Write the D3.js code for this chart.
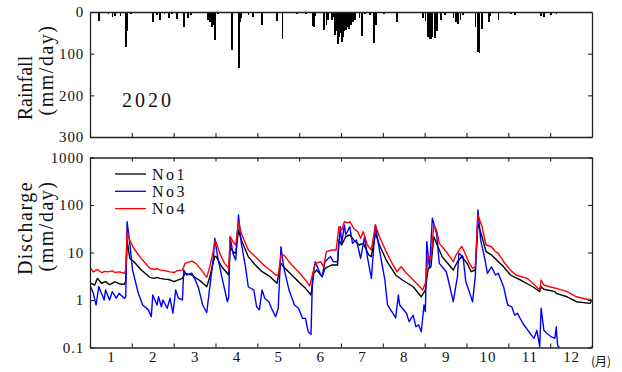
<!DOCTYPE html>
<html>
<head>
<meta charset="utf-8">
<script src="https://cdn.jsdelivr.net/npm/d3@7"></script>
<style>
  body { margin: 0; background: #fff; }
  svg text { font-family: "Liberation Serif", "Tinos", "DejaVu Serif", serif; fill: #111; }
</style>
</head>
<body>
<svg id="chart" width="622" height="372"></svg>
<script>
// Month labels and the day-of-year on which each month starts (2020 is a leap year)
const months = ["1","2","3","4","5","6","7","8","9","10","11","12"];
const monthStartDay = [0, 31, 60, 91, 121, 152, 182, 213, 244, 274, 305, 335, 366];
const rainTicks = [0, 100, 200, 300];
const dischargeTicks = [0.1, 1, 10, 100, 1000];
const year = "2020";

// Daily rainfall: [day of year, mm/day]
const rainfall = [
  [7,22],[14,5],[17,12],[19,10],[23,10],[27,83],[28,45],[31,5],
  [46,23],[49,6],[51,18],[54,5],[57,15],[59,4],
  [63,17],[68,36],[71,15],[73,8],[86,20],[87,25],[89,35],[90,30],[91,68],
  [93,5],[103,90],[108,135],[109,25],[110,15],[115,8],[118,12],
  [125,30],[136,22],[140,65],[151,5],
  [157,4],[162,33],[163,37],[164,10],[170,43],[172,31],[173,20],[176,20],[177,12],[178,55],[179,45],[180,76],[181,60],[182,50],
  [183,72],[184,60],[185,45],[186,43],[187,35],[188,41],[189,30],[190,31],[191,25],[193,20],[196,15],[198,58],[200,5],[204,8],[207,74],[208,30],
  [214,5],[224,24],[234,3],[243,15],
  [245,22],[247,60],[248,65],[249,65],[250,60],[252,62],[253,45],[256,20],[259,8],[265,15],[267,25],[268,28],[270,20],[272,8],
  [275,3],[281,35],[283,95],[284,98],[286,40],[291,25],[292,10],[298,20],[303,3],
  [307,5],[310,6],[321,3],[329,10],[331,12],
  [336,8],[340,5]
];

// Daily discharge (mm/day) at the three stations: [day of year, value]
const no1 = [
  [1,2.25],[4,2.07],[6,2.86],[9,2.25],[12,2.43],[15,2.1],[19,2.4],[22,2.2],[24,2.14],[26,2.14],[27,2.5],[28,18.3],[30,7.5],[33,6.4],
  [38,4.28],[44,3.0],[47,2.86],[49,3.0],[51,2.86],[54,2.75],[57,2.7],[61,2.43],[63,2.6],[67,2.86],[69,3.65],[71,3.5],[74,3.36],
  [77,2.9],[81,2.43],[85,1.9],[87,2.86],[90,6.4],[91,8.4],[92,8.2],[96,5.0],[101,3.36],[102,13.2],[104,10.4],[106,9.6],[108,29.7],
  [110,18.3],[115,8.2],[120,5.46],[125,3.94],[131,3.1],[136,2.25],[139,5.9],[142,4.65],[147,3.36],[152,2.43],[157,1.76],[161,1.27],
  [163,3.65],[165,4.28],[169,3.1],[171,4.65],[176,5.46],[180,5.46],[181,18.3],[183,14.4],[186,21.5],[189,23.4],[192,18.3],[196,14.4],
  [199,15.6],[203,8.9],[205,8.2],[208,25.4],[211,14.4],[216,6.95],[223,3.36],[228,2.64],[236,1.9],[242,1.17],[245,1.62],[247,4.65],
  [249,5.0],[251,21.5],[254,13.2],[257,8.2],[262,5.46],[265,4.28],[268,6.4],[271,8.2],[275,5.9],[278,3.94],[281,4.28],[283,41],
  [286,21.5],[289,10.4],[293,8.9],[302,5.0],[307,3.36],[314,2.64],[323,1.9],[328,1.5],[329,1.9],[331,1.68],[339,1.5],[340,1.38],
  [348,1.17],[355,0.92],[365,0.85],[366,0.95]
];
const no3 = [
  [1,1.9],[3,1.38],[5,0.785],[7,1.9],[9,1.38],[11,1.0],[12,1.62],[15,1.0],[17,1.5],[20,1.09],[22,1.38],[26,1.09],[27,1.17],[28,44.5],
  [30,15.6],[32,4.28],[36,1.38],[39,0.785],[43,0.62],[45,0.445],[46,1.27],[49,0.785],[50,1.17],[52,0.72],[53,1.0],[56,0.67],[58,1.09],
  [60,0.525],[62,1.62],[64,1.09],[67,1.0],[68,4.28],[70,3.36],[74,3.65],[76,2.86],[79,1.76],[82,0.785],[85,0.54],[87,1.62],[90,8.2],
  [91,19.9],[93,8.2],[96,3.1],[100,0.92],[101,1.17],[102,21.5],[104,9.6],[106,6.95],[108,61.6],[110,15.6],[113,5.0],[115,1.9],
  [119,1.62],[121,0.72],[123,0.62],[125,1.62],[127,1.09],[130,0.92],[132,0.67],[135,0.445],[137,0.67],[139,13.2],[141,5.0],
  [145,1.62],[149,0.785],[152,0.67],[155,0.41],[157,0.41],[159,0.215],[161,0.19],[162,2.64],[164,6.4],[168,3.36],[169,3.1],
  [171,6.4],[175,8.2],[177,6.4],[180,6.4],[182,34.9],[183,15.6],[185,37.9],[186,23.4],[189,34.9],[191,15.6],[194,18.3],[197,7.5],
  [200,21.5],[202,8.2],[205,2.86],[208,37.9],[211,11.3],[215,2.64],[217,0.785],[221,0.525],[223,0.42],[225,1.27],[226,0.785],
  [231,0.525],[233,0.35],[236,0.48],[238,0.274],[240,0.3],[242,0.215],[244,0.785],[245,0.57],[246,16.9],[248,4.65],[250,52.5],
  [253,25.4],[255,5.9],[257,5.0],[260,3.94],[262,2.25],[265,0.92],[268,3.1],[269,9.6],[272,8.2],[274,2.43],[277,1.38],[279,0.92],
  [281,3.1],[283,78.5],[285,18.3],[288,7.5],[290,3.65],[293,5.0],[296,3.36],[298,3.65],[302,1.9],[305,0.785],[308,0.72],[310,0.48],
  [312,0.525],[316,0.32],[321,0.2],[324,0.156],[326,0.23],[328,0.104],[329,0.67],[331,0.23],[333,0.2],[336,0.17],[339,0.156],
  [340,0.274],[341,0.11],[343,0.095],[348,0.07],[355,0.06],[362,0.06],[365,0.08],[366,0.105]
];
const no4 = [
  [1,4.7],[3,3.9],[6,4.4],[9,3.8],[12,4.0],[14,3.9],[17,4.1],[19,3.8],[22,3.9],[26,3.65],[27,4.3],[28,27],[30,18],[33,12],[38,7.5],
  [44,4.65],[46,4.5],[47,4.4],[49,4.6],[51,4.3],[53,4.2],[55,4.1],[58,3.9],[61,3.8],[63,4.1],[67,4.3],[69,5.9],[71,6.2],[74,6.6],
  [77,5.9],[81,4.3],[85,3.0],[87,4.65],[90,11.3],[91,17],[92,16.5],[95,8.9],[98,5.9],[101,4.65],[102,21.5],[104,16.9],[106,14.4],
  [108,44.5],[110,25.4],[115,11.3],[120,8.2],[125,5.9],[127,5.2],[131,4.28],[135,3.36],[137,3.36],[139,8.9],[141,8.9],[147,5.46],
  [152,3.94],[157,2.64],[160,1.97],[162,3.36],[164,5.9],[168,6.4],[170,5.0],[172,10.4],[176,11.3],[179,11.3],[181,35],[183,29.7],
  [185,44.5],[187,42],[189,44.5],[192,32],[195,27.4],[197,19.9],[199,27.4],[202,14.4],[205,11.3],[208,37.9],[211,21.5],[216,10.4],
  [221,5.46],[224,3.94],[227,5.0],[231,3.65],[236,2.64],[242,1.76],[243,1.62],[245,2.25],[247,8.9],[249,6.95],[251,37.9],[253,29.7],
  [255,15.6],[260,10.4],[265,6.4],[267,8.9],[271,13.5],[273,10.4],[276,6.4],[279,4.65],[281,5.0],[283,61.6],[286,34.9],[289,14.4],
  [293,13.2],[296,10.4],[298,9.6],[302,6.4],[307,4.28],[311,3.36],[319,2.86],[323,2.25],[328,1.62],[329,2.64],[331,2.07],[335,1.9],
  [340,1.76],[348,1.5],[355,1.17],[365,1.0],[366,1.05]
];

const series = [
  { name: "No1", data: no1, color: "#000000" },
  { name: "No3", data: no3, color: "#0000ff" },
  { name: "No4", data: no4, color: "#ff0000" }
];

// ---- layout ----
const serif = '"Liberation Serif", "Tinos", "DejaVu Serif", serif';
const left = 90, right = 592;
const rainTop = 12, rainBottom = 137;
const qTop = 157.5, qBottom = 347.5;
const svg = d3.select("#chart");

// every month gets the same width on the time axis
const x = d3.scaleLinear()
  .domain(monthStartDay)
  .range(monthStartDay.map((d, i) => left + i * (right - left) / 12));
const yRain = d3.scaleLinear().domain([0, 300]).range([rainTop, rainBottom]);
const yQ = d3.scaleLog().domain([0.1, 1000]).range([qBottom, qTop]);

const axisColor = "#222";
function styleAxis(g) {
  g.attr("font-family", null);
  g.selectAll("path.domain").attr("stroke", axisColor).attr("stroke-width", 1.3);
  g.selectAll(".tick line").attr("stroke", axisColor).attr("stroke-width", 1.1);
  g.selectAll(".tick text").attr("fill", "#111").attr("font-size", 15)
    .style("font-family", serif)
    .attr("letter-spacing", "0.8px");
}

// ---- rainfall panel ----
svg.append("g").attr("shape-rendering", "crispEdges").selectAll("rect")
  .data(rainfall)
  .join("rect")
  .attr("x", d => x(d[0] - 1))
  .attr("width", d => Math.max(1.8, x(d[0]) - x(d[0] - 1)))
  .attr("y", yRain(0))
  .attr("height", d => yRain(d[1]) - yRain(0))
  .attr("fill", "#000");

svg.append("g").attr("transform", `translate(${left},0)`)
  .call(d3.axisLeft(yRain).tickValues(rainTicks).tickSizeInner(-4).tickSizeOuter(0).tickPadding(6))
  .call(styleAxis);
svg.append("g").attr("transform", `translate(${right},0)`)
  .call(d3.axisRight(yRain).tickValues(rainTicks).tickSizeInner(-4).tickSizeOuter(0).tickFormat(""))
  .call(styleAxis);
svg.append("g").attr("transform", `translate(0,${rainBottom})`)
  .call(d3.axisBottom(x).tickValues(monthStartDay).tickSizeInner(-4).tickSizeOuter(0).tickFormat(""))
  .call(styleAxis);
svg.append("g").attr("transform", `translate(0,${rainTop})`)
  .call(d3.axisTop(x).tickValues([]).tickSizeOuter(0))
  .call(styleAxis);

svg.append("text")
  .attr("x", 122).attr("y", 107)
  .attr("font-size", 20).attr("letter-spacing", "3px")
  .style("font-family", serif)
  .text(year);

// ---- discharge panel ----
svg.append("defs").append("clipPath").attr("id", "plot-clip")
  .append("rect").attr("x", left).attr("y", qTop).attr("width", right - left).attr("height", qBottom - qTop);

const line = d3.line()
  .x(d => x(d[0] - 0.5))
  .y(d => yQ(d[1]));

svg.append("g").attr("clip-path", "url(#plot-clip)")
  .selectAll("path")
  .data(series)
  .join("path")
  .attr("d", s => line(s.data))
  .attr("fill", "none")
  .attr("stroke", s => s.color)
  .attr("stroke-width", 1.4)
  .attr("stroke-linejoin", "round");

svg.append("g").attr("transform", `translate(${left},0)`)
  .call(d3.axisLeft(yQ).tickValues(dischargeTicks).tickSizeInner(-4).tickSizeOuter(0).tickPadding(6)
    .tickFormat(d => d < 1 ? "0.1" : String(d)))
  .call(styleAxis);
svg.append("g").attr("transform", `translate(${right},0)`)
  .call(d3.axisRight(yQ).tickValues(dischargeTicks).tickSizeInner(-4).tickSizeOuter(0).tickFormat(""))
  .call(styleAxis);
svg.append("g").attr("transform", `translate(0,${qTop})`)
  .call(d3.axisTop(x).tickValues(monthStartDay).tickSizeInner(-4).tickSizeOuter(0).tickFormat(""))
  .call(styleAxis);
svg.append("g").attr("transform", `translate(0,${qBottom})`)
  .call(d3.axisBottom(x).tickValues(monthStartDay).tickSizeInner(-4).tickSizeOuter(0).tickFormat(""))
  .call(styleAxis);

// month numbers centred in each month
const monthMid = months.map((m, i) => (monthStartDay[i] + monthStartDay[i + 1]) / 2);
svg.append("g").attr("transform", `translate(0,${qBottom})`)
  .call(d3.axisBottom(x).tickValues(monthMid).tickSize(0).tickPadding(4)
    .tickFormat((d, i) => months[i]))
  .call(styleAxis)
  .call(g => g.select("path.domain").remove());

svg.append("text")
  .attr("x", 601).attr("y", 366)
  .attr("text-anchor", "middle")
  .attr("font-size", 12)
  .style("font-family", '"Noto Sans CJK JP", sans-serif')
  .text("(月)");

// legend
const legend = svg.append("g");
series.forEach((s, i) => {
  const ly = 174 + i * 17.3;
  legend.append("line")
    .attr("x1", 115).attr("x2", 146).attr("y1", ly).attr("y2", ly)
    .attr("stroke", s.color).attr("stroke-width", 1.3);
  legend.append("text")
    .attr("x", 152).attr("y", ly).attr("dy", "0.35em")
    .attr("font-size", 16).attr("letter-spacing", "2.5px")
    .style("font-family", serif)
    .text(s.name);
});

// axis titles: one rotated text per line, centred on its own point
function yTitle(cx, cy, label, spacing) {
  svg.append("text")
    .attr("transform", `translate(${cx},${cy}) rotate(-90)`)
    .attr("text-anchor", "middle")
    .attr("font-size", 20).attr("letter-spacing", spacing + "px")
    .style("font-family", serif)
    .text(label);
}
yTitle(32, 88, "Rainfall", 0);
yTitle(53, 70, "(mm/day)", 1.5);
yTitle(32, 228, "Discharge", 1.5);
yTitle(53, 226, "(mm/day)", 1.5);
</script>
</body>
</html>
